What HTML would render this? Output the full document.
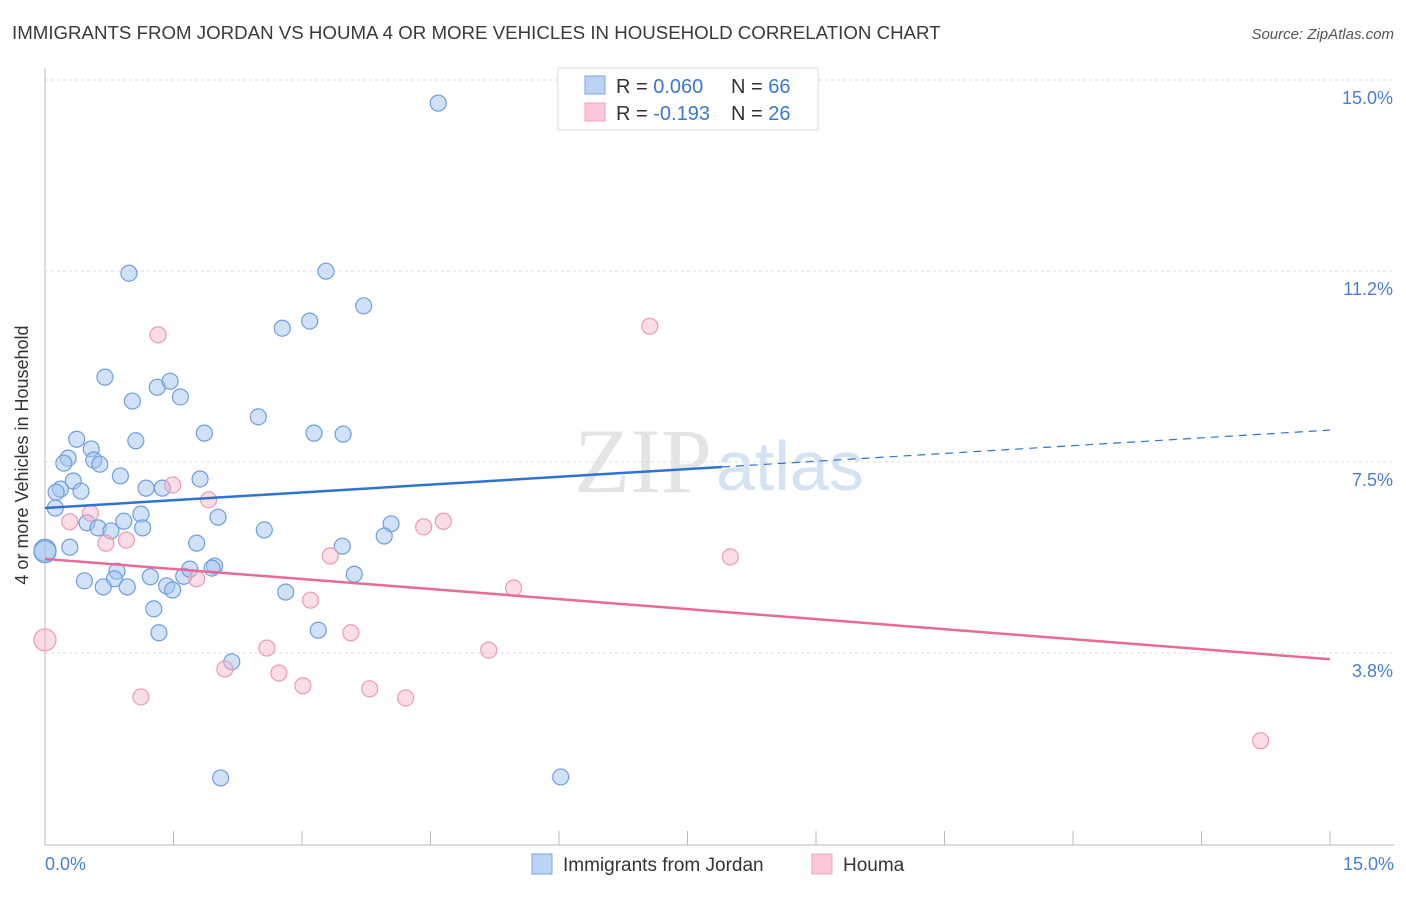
<!DOCTYPE html>
<html><head><meta charset="utf-8"><style>
body{margin:0;background:#fff;font-family:"Liberation Sans",sans-serif;}
</style></head><body>
<svg width="1406" height="892" xmlns="http://www.w3.org/2000/svg" font-family="Liberation Sans, sans-serif">
<text x="12" y="39" font-size="18.7" fill="#3a3a3a">IMMIGRANTS FROM JORDAN VS HOUMA 4 OR MORE VEHICLES IN HOUSEHOLD CORRELATION CHART</text>
<text x="1394" y="39" font-size="15" fill="#555" font-style="italic" text-anchor="end">Source: ZipAtlas.com</text>
<text x="712" y="492" font-size="92" fill="#e4e4e4" font-family="Liberation Serif, serif" text-anchor="end">ZIP</text>
<text x="716" y="490" font-size="70" fill="#d4e2f4">atlas</text>
<g id="grid"></g><g id="axes"></g><g id="marks"></g>
<text x="28" y="455" font-size="18" fill="#333" text-anchor="middle" transform="rotate(-90 28 455)">4 or more Vehicles in Household</text>
<text x="45" y="870" font-size="18" fill="#4a7fd0">0.0%</text>
<text x="1394" y="870" font-size="18" fill="#4a7fd0" text-anchor="end">15.0%</text>
<g>
<rect x="558" y="68" width="260" height="62" fill="#fff" stroke="#ddd"/>
<rect x="585" y="76" width="20" height="18" fill="#bcd4f4" stroke="#7aa6e0"/>
<rect x="585" y="103" width="20" height="18" fill="#fcc8d8" stroke="#f0a0b8"/>
<text x="616" y="93" font-size="20" fill="#333">R = <tspan fill="#3a78d0">0.060</tspan></text>
<text x="731" y="93" font-size="20" fill="#333">N = <tspan fill="#3a78d0">66</tspan></text>
<text x="616" y="120" font-size="20" fill="#333">R = <tspan fill="#3a78d0">-0.193</tspan></text>
<text x="731" y="120" font-size="20" fill="#333">N = <tspan fill="#3a78d0">26</tspan></text>
</g>
<g>
<rect x="532" y="854" width="20" height="20" fill="#bcd4f4" stroke="#7aa6e0"/>
<text x="563" y="871" font-size="19" fill="#333">Immigrants from Jordan</text>
<rect x="812" y="854" width="20" height="20" fill="#fcc8d8" stroke="#f0a0b8"/>
<text x="843" y="871" font-size="19" fill="#333">Houma</text>
</g>
</svg>
<script>
const yTicks=[15,11.25,7.5,3.75];
const yTickLabels=["15.0%","11.2%","7.5%","3.8%"];
const xTicks=[0,1.5,3,4.5,6,7.5,9,10.5,12,13.5,15];
const blueX=[4.59,0.98,3.28,3.72,2.77,3.09,0.70,1.31,1.46,1.58,1.02,2.49,1.86,3.14,3.48,1.06,0.37,0.54,0.27,0.57,0.22,0.64,0.88,1.81,0.33,0.18,0.13,0.42,1.18,1.37,0.12,2.02,1.12,0.92,0.49,0.62,0.77,1.14,2.56,4.04,3.96,0.29,0.0,0.0,1.77,3.47,0.84,0.81,1.23,1.62,1.98,1.95,1.69,3.61,0.46,0.68,0.96,1.42,1.49,2.81,1.27,1.33,3.19,2.18,2.05,6.02];
const blueY=[14.88,11.54,11.58,10.90,10.46,10.60,9.50,9.30,9.42,9.11,9.03,8.72,8.40,8.40,8.38,8.25,8.28,8.09,7.91,7.87,7.81,7.79,7.56,7.50,7.46,7.30,7.24,7.26,7.32,7.32,6.93,6.75,6.81,6.67,6.64,6.54,6.48,6.54,6.50,6.62,6.38,6.16,6.10,6.07,6.24,6.18,5.69,5.54,5.58,5.59,5.79,5.75,5.73,5.63,5.50,5.38,5.38,5.40,5.32,5.28,4.95,4.48,4.53,3.91,1.63,1.65];
const pinkX=[1.32,7.06,1.49,1.91,0.53,0.29,0.95,0.71,4.42,4.65,3.33,8.00,1.77,5.47,3.10,3.57,0.0,2.59,5.18,2.10,2.73,3.01,3.79,1.12,4.21,14.19];
const pinkY=[10.33,10.50,7.38,7.09,6.83,6.66,6.30,6.24,6.56,6.67,5.99,5.97,5.54,5.36,5.12,4.48,4.34,4.18,4.14,3.77,3.69,3.44,3.38,3.22,3.20,2.36];
const blueTrend=[6.93,8.46]; const blueSolidEnd=7.9;
const pinkTrend=[5.93,3.96];
const NS="http://www.w3.org/2000/svg";
const X=v=>45+v/15*1285, Y=v=>97+(15-v)*50.93;
function mk(p,t,a){const e=document.createElementNS(NS,t);for(const k in a)e.setAttribute(k,a[k]);document.getElementById(p).appendChild(e);return e;}
yTicks.forEach((t,i)=>{
 const l=mk('grid','line',{x1:45,x2:1394,y1:Y(t)-17,y2:Y(t)-17,stroke:'#ddd','stroke-dasharray':'3,3'});
 
 
 const tx=mk('grid','text',{x:1393,y:Y(t)+7,'font-size':18,fill:'#4a7fd0','text-anchor':'end'});
 tx.textContent=yTickLabels[i];
 
 
});
let a=mk('axes','line',{x1:45,x2:45,y1:68,y2:845,stroke:'#bbb'});


a=mk('axes','line',{x1:45,x2:1394,y1:845,y2:845,stroke:'#bbb'});


xTicks.forEach(t=>{const l=mk('axes','line',{x1:X(t),x2:X(t),y1:831,y2:845,stroke:'#bbb'});
 
 });
function pts(xs,ys,fill,stroke,name){xs.forEach((x,i)=>{const c=mk('marks','circle',{cx:X(x),cy:Y(ys[i]),r:x<0.05?11:8,fill:fill,stroke:stroke,'stroke-width':1.2});
 
 });}
pts(blueX,blueY,'rgba(164,196,240,0.5)','#6f9ede','point-jordan');
pts(pinkX,pinkY,'rgba(248,180,200,0.45)','#eb9ab4','point-houma');
const bAt=v=>blueTrend[0]+(blueTrend[1]-blueTrend[0])*v/15;
let t=mk('marks','line',{x1:X(0),y1:Y(bAt(0)),x2:X(blueSolidEnd),y2:Y(bAt(blueSolidEnd)),stroke:'#2f72d6','stroke-width':2.5});


t=mk('marks','line',{x1:X(blueSolidEnd),y1:Y(bAt(blueSolidEnd)),x2:X(15),y2:Y(bAt(15)),stroke:'#2f72d6','stroke-width':1.2,'stroke-dasharray':'8,6'});


t=mk('marks','line',{x1:X(0),y1:Y(pinkTrend[0]),x2:X(15),y2:Y(pinkTrend[1]),stroke:'#e8699a','stroke-width':2.5});


</script>
</body></html>
